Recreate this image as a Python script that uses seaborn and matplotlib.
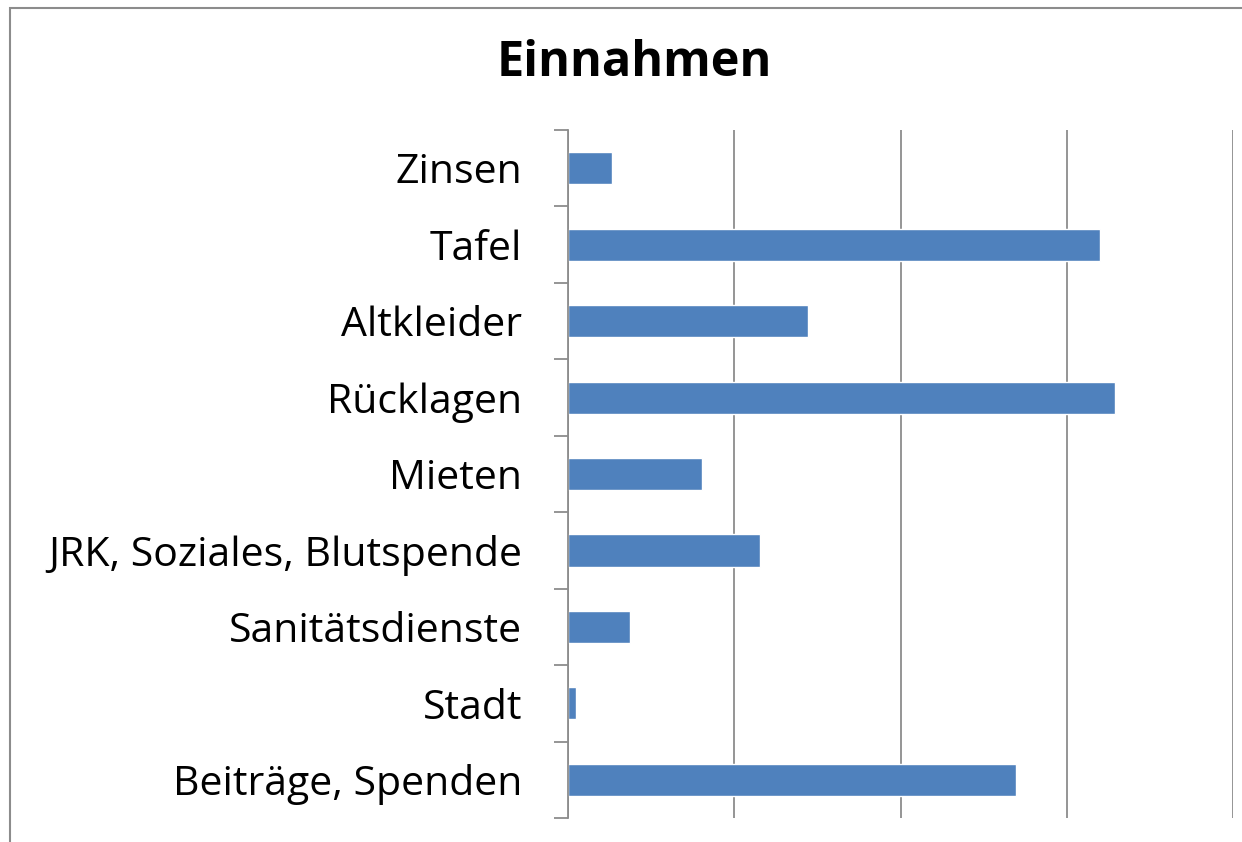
import matplotlib
matplotlib.use('Agg')
import matplotlib.pyplot as plt
import seaborn as sns
import pandas as pd
from matplotlib.patches import Rectangle

categories = ['Zinsen', 'Tafel', 'Altkleider', 'Rücklagen', 'Mieten',
              'JRK, Soziales, Blutspende', 'Sanitätsdienste', 'Stadt',
              'Beiträge, Spenden']
values = [1320, 16000, 7220, 16450, 4030, 5775, 1865, 240, 13475]

df = pd.DataFrame({'kategorie': categories, 'betrag': values})

sns.set_style('white')
plt.rcParams['font.family'] = ['Open Sans', 'DejaVu Sans']
plt.rcParams['text.color'] = 'black'
plt.rcParams['ytick.color'] = 'black'

fig = plt.figure(figsize=(12.42, 8.42), dpi=100)
ax = fig.add_axes([0.4573, 0.0285, 0.5355, 0.8171])

sns.barplot(data=df, x='betrag', y='kategorie', orient='h',
            color='#4F81BD', saturation=1, width=0.42, ax=ax)

ax.set_xlim(0, 20000)
ax.set_ylim(len(categories) - 0.5, -0.5)
ax.set_xticks([0, 5000, 10000, 15000, 20000])
ax.set_xticklabels([])
ax.tick_params(axis='x', length=0)
ax.grid(axis='x', color='#8c8c8c', linewidth=1.3)
ax.set_axisbelow(True)

ax.set_yticks(range(len(categories)))
ax.set_yticks([i - 0.5 for i in range(len(categories) + 1)], minor=True)
ax.tick_params(axis='y', which='major', length=0, pad=33, labelsize=29.5,
               labelcolor='black')
ax.tick_params(axis='y', which='minor', length=10, width=1.3, color='#8c8c8c', left=True)
ax.set_xlabel('')
ax.set_ylabel('')

for s in ['top', 'right', 'bottom']:
    ax.spines[s].set_visible(False)
ax.spines['left'].set_color('#8c8c8c')
ax.spines['left'].set_linewidth(1.3)

fig.text(0.511, 0.925, 'Einnahmen', ha='center', va='center',
         fontsize=35, fontweight='bold', color='black')

fig.patches.append(Rectangle((10 / 1242, -0.1), 1.2, 1 - 8 / 842 + 0.1,
                             transform=fig.transFigure, fill=False,
                             edgecolor='#8c8c8c', linewidth=1.5))

fig.savefig('out.png', dpi=100)
